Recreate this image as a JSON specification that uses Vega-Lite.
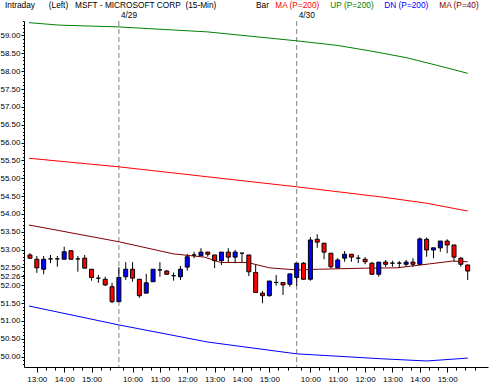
{
"$schema": "https://vega.github.io/schema/vega-lite/v6.json",
"width": 464, "height": 346,
"autosize": {"type": "none"},
"padding": {"left": 24, "top": 21, "right": 5, "bottom": 22},
"background": "white",
"config": {"view": {"stroke": null}, "font": "Liberation Sans",
  "axis": {"domainColor": "black", "tickColor": "black", "labelColor": "black", "labelFont": "Liberation Sans", "labelFontSize": 8, "grid": false, "title": null, "labelOverlap": false, "labelFlush": false, "tickCount": 500}},
"title": {"text": "Intraday\u00a0\u00a0\u00a0\u00a0\u00a0\u00a0(Left)\u00a0\u00a0\u00a0MSFT - MICROSOFT CORP\u00a0\u00a0(15-Min)", "anchor": "start", "frame": "group", "dx": -19, "offset": 0, "dy": 14.5, "baseline": "alphabetic", "fontSize": 8.3, "fontWeight": "normal", "color": "black", "font": "Liberation Sans"},
"datasets": {
"bars": [
{"i":0,"o":52.85,"h":52.90,"l":52.74,"c":52.76},
{"i":1,"o":52.73,"h":52.82,"l":52.35,"c":52.49},
{"i":2,"o":52.45,"h":52.82,"l":52.31,"c":52.73},
{"i":3,"o":52.74,"h":52.85,"l":52.62,"c":52.74},
{"i":4,"o":52.74,"h":52.82,"l":52.52,"c":52.74},
{"i":5,"o":52.73,"h":53.08,"l":52.73,"c":52.94},
{"i":6,"o":52.97,"h":52.98,"l":52.73,"c":52.73},
{"i":7,"o":52.74,"h":52.82,"l":52.38,"c":52.74},
{"i":8,"o":52.76,"h":52.85,"l":52.48,"c":52.48},
{"i":9,"o":52.45,"h":52.45,"l":52.13,"c":52.22},
{"i":10,"o":52.20,"h":52.29,"l":52.07,"c":52.20},
{"i":11,"o":52.17,"h":52.24,"l":51.98,"c":52.01},
{"i":12,"o":51.96,"h":52.07,"l":51.50,"c":51.54},
{"i":13,"o":51.54,"h":52.51,"l":51.54,"c":52.22},
{"i":14,"o":52.24,"h":52.65,"l":52.15,"c":52.45},
{"i":15,"o":52.45,"h":52.65,"l":52.10,"c":52.20},
{"i":16,"o":52.17,"h":52.17,"l":51.65,"c":51.71},
{"i":17,"o":51.78,"h":52.32,"l":51.78,"c":52.07},
{"i":18,"o":52.10,"h":52.45,"l":52.10,"c":52.45},
{"i":19,"o":52.43,"h":52.65,"l":52.24,"c":52.43},
{"i":20,"o":52.40,"h":52.43,"l":52.29,"c":52.31},
{"i":21,"o":52.27,"h":52.36,"l":52.13,"c":52.27},
{"i":22,"o":52.24,"h":52.54,"l":52.15,"c":52.45},
{"i":23,"o":52.51,"h":52.88,"l":52.41,"c":52.80},
{"i":24,"o":52.85,"h":52.94,"l":52.76,"c":52.85},
{"i":25,"o":52.83,"h":53.04,"l":52.83,"c":52.93},
{"i":26,"o":52.93,"h":52.94,"l":52.80,"c":52.87},
{"i":27,"o":52.85,"h":52.85,"l":52.48,"c":52.69},
{"i":28,"o":52.69,"h":52.93,"l":52.57,"c":52.93},
{"i":29,"o":52.93,"h":53.04,"l":52.65,"c":52.79},
{"i":30,"o":52.79,"h":52.99,"l":52.62,"c":52.93},
{"i":31,"o":52.90,"h":52.91,"l":52.65,"c":52.90},
{"i":32,"o":52.85,"h":52.85,"l":52.26,"c":52.38},
{"i":33,"o":52.36,"h":52.57,"l":51.80,"c":51.80},
{"i":34,"o":51.78,"h":51.84,"l":51.50,"c":51.71},
{"i":35,"o":51.71,"h":52.12,"l":51.68,"c":52.12},
{"i":36,"o":52.08,"h":52.29,"l":51.99,"c":52.08},
{"i":37,"o":52.08,"h":52.08,"l":51.73,"c":52.01},
{"i":38,"o":52.03,"h":52.32,"l":51.96,"c":52.32},
{"i":39,"o":52.22,"h":52.62,"l":51.98,"c":52.62},
{"i":40,"o":52.62,"h":52.65,"l":52.15,"c":52.17},
{"i":41,"o":52.17,"h":53.35,"l":52.13,"c":53.27},
{"i":42,"o":53.29,"h":53.43,"l":53.05,"c":53.21},
{"i":43,"o":53.18,"h":53.18,"l":52.73,"c":52.93},
{"i":44,"o":52.90,"h":52.90,"l":52.48,"c":52.52},
{"i":45,"o":52.49,"h":52.76,"l":52.48,"c":52.71},
{"i":46,"o":52.76,"h":52.96,"l":52.66,"c":52.87},
{"i":47,"o":52.87,"h":52.87,"l":52.66,"c":52.79},
{"i":48,"o":52.76,"h":52.85,"l":52.62,"c":52.76},
{"i":49,"o":52.73,"h":52.79,"l":52.59,"c":52.66},
{"i":50,"o":52.62,"h":52.65,"l":52.29,"c":52.31},
{"i":51,"o":52.31,"h":52.65,"l":52.24,"c":52.65},
{"i":52,"o":52.65,"h":52.71,"l":52.52,"c":52.59},
{"i":53,"o":52.62,"h":52.69,"l":52.52,"c":52.62},
{"i":54,"o":52.62,"h":52.68,"l":52.49,"c":52.62},
{"i":55,"o":52.59,"h":52.71,"l":52.52,"c":52.65},
{"i":56,"o":52.65,"h":52.76,"l":52.52,"c":52.59},
{"i":57,"o":52.59,"h":53.34,"l":52.57,"c":53.30},
{"i":58,"o":53.29,"h":53.34,"l":52.80,"c":52.99},
{"i":59,"o":52.99,"h":53.05,"l":52.76,"c":53.05},
{"i":60,"o":53.05,"h":53.24,"l":52.94,"c":53.24},
{"i":61,"o":53.24,"h":53.29,"l":52.90,"c":53.13},
{"i":62,"o":53.13,"h":53.13,"l":52.66,"c":52.79},
{"i":63,"o":52.76,"h":52.79,"l":52.52,"c":52.59},
{"i":64,"o":52.57,"h":52.57,"l":52.15,"c":52.40}
],
"lines": [
{"series":"MA (P=200)","i":-0.15,"v":55.56},{"series":"MA (P=200)","i":13,"v":55.32},{"series":"MA (P=200)","i":26,"v":55.04},{"series":"MA (P=200)","i":39,"v":54.76},{"series":"MA (P=200)","i":51.6,"v":54.47},{"series":"MA (P=200)","i":58,"v":54.30},{"series":"MA (P=200)","i":64,"v":54.08},
{"series":"UP (P=200)","i":-0.15,"v":59.36},{"series":"UP (P=200)","i":4.3,"v":59.29},{"series":"UP (P=200)","i":13,"v":59.24},{"series":"UP (P=200)","i":26,"v":59.10},{"series":"UP (P=200)","i":39,"v":58.85},{"series":"UP (P=200)","i":45,"v":58.72},{"series":"UP (P=200)","i":50,"v":58.56},{"series":"UP (P=200)","i":55,"v":58.38},{"series":"UP (P=200)","i":59.4,"v":58.17},{"series":"UP (P=200)","i":64,"v":57.94},
{"series":"DN (P=200)","i":-0.15,"v":51.42},{"series":"DN (P=200)","i":13,"v":50.89},{"series":"DN (P=200)","i":26,"v":50.41},{"series":"DN (P=200)","i":39,"v":50.08},{"series":"DN (P=200)","i":51.5,"v":49.94},{"series":"DN (P=200)","i":58,"v":49.88},{"series":"DN (P=200)","i":64,"v":49.96},
{"series":"MA (P=40)","i":-0.15,"v":53.69},{"series":"MA (P=40)","i":3.8,"v":53.55},{"series":"MA (P=40)","i":13,"v":53.22},{"series":"MA (P=40)","i":21,"v":52.88},{"series":"MA (P=40)","i":25.5,"v":52.79},{"series":"MA (P=40)","i":27.9,"v":52.64},{"series":"MA (P=40)","i":31.8,"v":52.64},{"series":"MA (P=40)","i":35,"v":52.49},{"series":"MA (P=40)","i":39,"v":52.43},{"series":"MA (P=40)","i":42.2,"v":52.45},{"series":"MA (P=40)","i":48.9,"v":52.48},{"series":"MA (P=40)","i":53.7,"v":52.49},{"series":"MA (P=40)","i":58.4,"v":52.60},{"series":"MA (P=40)","i":61.8,"v":52.68},{"series":"MA (P=40)","i":64,"v":52.66}
],
"days": [{"i":13,"label":"4/29"},{"i":39,"label":"4/30"}]
},
"resolve": {"axis": {"x": "independent", "y": "independent"}},
"layer": [
{"data": {"name": "days"}, "mark": {"type": "rule", "color": "#808080", "strokeDash": [5, 3], "strokeWidth": 1},
 "encoding": {"x": {"field": "i", "type": "quantitative", "scale": {"domain": [-0.143, 66.24], "nice": false, "zero": false},
   "axis": {"orient": "bottom", "values": [1,2.3333,3.6667,5,6.3333,7.6667,9,10.3333,11.6667,13.6667,15,16.3333,17.6667,19,20.3333,21.6667,23,24.3333,25.6667,27,28.3333,29.6667,31,32.3333,33.6667,35,36.3333,37.6667,39.6667,41,42.3333,43.6667,45,46.3333,47.6667,49,50.3333,51.6667,53,54.3333,55.6667,57,58.3333,59.6667,61,62.3333,63.6667,65],
     "labels": false, "tickSize": 3, "domain": true, "offset": 0}}}},
{"data": {"name": "days"}, "mark": {"type": "text", "align": "left", "dx": 2, "baseline": "middle", "fontSize": 8.3, "color": "black"},
 "encoding": {"x": {"field": "i", "type": "quantitative", "axis": null}, "y": {"datum": 59.55, "type": "quantitative", "axis": null}, "text": {"field": "label"}}},
{"data": {"name": "lines"}, "mark": {"type": "line", "strokeWidth": 1},
 "encoding": {"x": {"field": "i", "type": "quantitative",
     "axis": {"orient": "bottom", "values": [1,5,9,15,19,23,27,31,35,41,45,49,53,57,61], "domain": false, "offset": 0,
       "labelExpr": "format(datum.value < 13 ? 12.75 + datum.value/4 : (datum.value < 39 ? 9.5 + (datum.value-13)/4 : 9.5 + (datum.value-39)/4), 'd') + ':00'",
       "tickSize": 5, "labelPadding": 3}},
   "y": {"field": "v", "type": "quantitative", "scale": {"domain": [49.711, 59.406], "nice": false, "zero": false},
     "axis": {"orient": "left", "values": [50,50.5,51,51.5,52,52.26,52.5,53,53.5,54,54.5,55,55.5,56,56.5,57,57.5,58,58.5,59], "offset": 0,
       "format": ".2f", "tickSize": 3, "labelPadding": 1, "domain": true}},
   "color": {"field": "series", "type": "nominal",
     "scale": {"domain": ["MA (P=200)", "UP (P=200)", "DN (P=200)", "MA (P=40)"], "range": ["#ff0000", "#008000", "#0000ff", "#800000"]},
     "legend": {"orient": "none", "legendX": 232, "legendY": -19, "direction": "horizontal", "title": "Bar", "titleOrient": "left", "titleFontSize": 8.3, "titleFontWeight": "normal", "titleColor": "black", "titleFont": "Liberation Sans", "titlePadding": 8,
       "labelFontSize": 8.3, "labelFont": "Liberation Sans", "labelOffset": -10, "symbolSize": 0, "symbolOpacity": 0, "symbolStrokeWidth": 0, "columnPadding": 10, "labelLimit": 200,
       "encode": {"labels": {"update": {"fill": {"scale": "color", "field": "value"}}}}}}}},
{"data": {"name": "bars"}, "mark": {"type": "rule", "color": "black", "strokeWidth": 1},
 "encoding": {"x": {"field": "i", "type": "quantitative", "axis": null},
   "y": {"field": "l", "type": "quantitative",
     "axis": {"orient": "left", "values": [49.8,49.9,50,50.1,50.2,50.3,50.4,50.5,50.6,50.7,50.8,50.9,51,51.1,51.2,51.3,51.4,51.5,51.6,51.7,51.8,51.9,52,52.1,52.2,52.3,52.4,52.5,52.6,52.7,52.8,52.9,53,53.1,53.2,53.3,53.4,53.5,53.6,53.7,53.8,53.9,54,54.1,54.2,54.3,54.4,54.5,54.6,54.7,54.8,54.9,55,55.1,55.2,55.3,55.4,55.5,55.6,55.7,55.8,55.9,56,56.1,56.2,56.3,56.4,56.5,56.6,56.7,56.8,56.9,57,57.1,57.2,57.3,57.4,57.5,57.6,57.7,57.8,57.9,58,58.1,58.2,58.3,58.4,58.5,58.6,58.7,58.8,58.9,59,59.1,59.2,59.3,59.4],
       "labels": false, "tickSize": 1.5, "domain": false, "offset": 0}},
   "y2": {"field": "h"}}},
{"data": {"name": "bars"}, "mark": {"type": "bar", "width": 4, "stroke": "black", "strokeWidth": 1},
 "encoding": {"x": {"field": "i", "type": "quantitative", "axis": null}, "y": {"field": "o", "type": "quantitative", "axis": null}, "y2": {"field": "c"},
   "fill": {"condition": {"test": "datum.c > datum.o", "value": "#0000ff"}, "value": "#ff0000"}}}
]
}
